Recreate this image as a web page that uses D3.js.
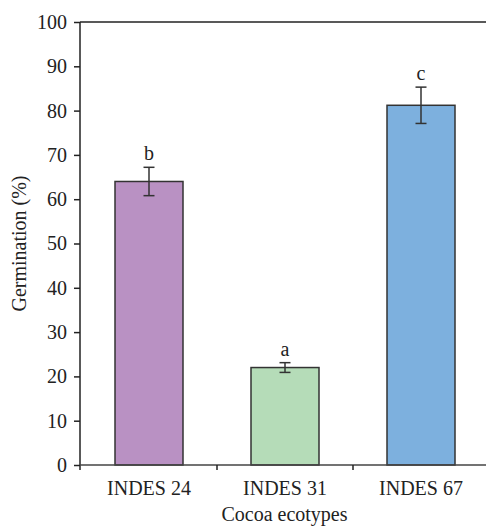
<!DOCTYPE html>
<html>
<head>
<meta charset="utf-8">
<script src="https://cdn.jsdelivr.net/npm/d3@7"></script>
<style>
  body { margin: 0; background: #fff; }
</style>
</head>
<body>
<div id="chart"></div>
<script>
// data
const categories = ['INDES 24', 'INDES 31', 'INDES 67']
const germination = [64, 22, 81.2]
const errors = [3.2, 1.1, 4.1]
const letters = ['b', 'a', 'c']
const colors = ['#b991c3', '#b5dcb8', '#7db0de']
const yTicks = [0, 10, 20, 30, 40, 50, 60, 70, 80, 90, 100]

const width = 486,
      height = 526,
      plotLeft = 80,
      plotTop = 22,
      plotBottom = 465,
      plotRight = 489,
      font = '"Liberation Serif", "Times New Roman", Times, serif',
      fontSize = '20px'

let svg = d3.select('#chart')
  .append('svg')
  .attr('width', width)
  .attr('height', height)
  .style('font-family', font)

let x = d3.scaleBand()
  .domain(categories)
  .range([plotLeft + 1, plotRight])
  .paddingInner(0.5)
  .paddingOuter(0.25)

let y = d3.scaleLinear()
  .domain([0, 100])
  .range([plotBottom, plotTop])

let mid = c => x(c) + x.bandwidth() / 2

// bars
svg.selectAll('rect.bar')
  .data(germination)
  .enter()
  .append('rect')
  .attr('class', 'bar')
  .attr('x', (d, i) => x(categories[i]))
  .attr('y', d => y(d))
  .attr('width', x.bandwidth())
  .attr('height', d => y(0) - y(d))
  .attr('fill', (d, i) => colors[i])
  .attr('stroke', '#333')
  .attr('stroke-width', 1.5)

// error bars
let err = svg.selectAll('g.err')
  .data(germination)
  .enter()
  .append('g')
  .attr('class', 'err')
  .attr('stroke', '#333')
  .attr('stroke-width', 1.5)

err.append('line')
  .attr('x1', (d, i) => mid(categories[i]))
  .attr('x2', (d, i) => mid(categories[i]))
  .attr('y1', (d, i) => y(d + errors[i]))
  .attr('y2', (d, i) => y(d - errors[i]))

err.append('line')
  .attr('x1', (d, i) => mid(categories[i]) - 5.5)
  .attr('x2', (d, i) => mid(categories[i]) + 5.5)
  .attr('y1', (d, i) => y(d + errors[i]))
  .attr('y2', (d, i) => y(d + errors[i]))

err.append('line')
  .attr('x1', (d, i) => mid(categories[i]) - 5.5)
  .attr('x2', (d, i) => mid(categories[i]) + 5.5)
  .attr('y1', (d, i) => y(d - errors[i]))
  .attr('y2', (d, i) => y(d - errors[i]))

// significance letters
svg.selectAll('text.letter')
  .data(germination)
  .enter()
  .append('text')
  .attr('class', 'letter')
  .attr('x', (d, i) => mid(categories[i]))
  .attr('y', (d, i) => y(d + errors[i]) - 7)
  .attr('text-anchor', 'middle')
  .style('font-family', font)
  .style('font-size', fontSize)
  .attr('fill', '#222')
  .text((d, i) => letters[i])

// y axis
let yAxis = svg.append('g')
  .attr('transform', `translate(${plotLeft},0)`)
  .call(d3.axisLeft(y).tickValues(yTicks).tickSize(6).tickPadding(7))
yAxis.attr('font-family', null).attr('font-size', null)
yAxis.select('.domain').remove()
yAxis.selectAll('line').attr('stroke', '#222').attr('stroke-width', 1.5)
yAxis.selectAll('text')
  .style('font-family', font)
  .style('font-size', fontSize)
  .attr('fill', '#222')

svg.append('line')
  .attr('x1', plotLeft).attr('x2', plotLeft)
  .attr('y1', plotTop).attr('y2', plotBottom + 5)
  .attr('stroke', '#222').attr('stroke-width', 1.5)

// top border
svg.append('line')
  .attr('x1', plotLeft).attr('x2', width)
  .attr('y1', plotTop).attr('y2', plotTop)
  .attr('stroke', '#222').attr('stroke-width', 1.5)

// x axis
svg.append('line')
  .attr('x1', plotLeft).attr('x2', width)
  .attr('y1', plotBottom).attr('y2', plotBottom)
  .attr('stroke', '#444').attr('stroke-width', 1.5)

let step = x.step()
let bounds = categories.slice(1).map(c => x(c) - x.paddingInner() * step / 2)
svg.selectAll('line.xtick')
  .data(bounds)
  .enter()
  .append('line')
  .attr('class', 'xtick')
  .attr('x1', d => d).attr('x2', d => d)
  .attr('y1', plotBottom).attr('y2', plotBottom + 5)
  .attr('stroke', '#222').attr('stroke-width', 1.5)

svg.selectAll('text.xlab')
  .data(categories)
  .enter()
  .append('text')
  .attr('class', 'xlab')
  .attr('x', d => mid(d))
  .attr('y', 495)
  .attr('text-anchor', 'middle')
  .style('font-family', font)
  .style('font-size', fontSize)
  .attr('fill', '#222')
  .text(d => d)

// axis titles
svg.append('text')
  .attr('x', (plotLeft + plotRight) / 2)
  .attr('y', 521)
  .attr('text-anchor', 'middle')
  .style('font-family', font)
  .style('font-size', fontSize)
  .attr('fill', '#222')
  .text('Cocoa ecotypes')

svg.append('text')
  .attr('transform', `translate(26,${(plotTop + plotBottom) / 2}) rotate(-90)`)
  .attr('text-anchor', 'middle')
  .style('font-family', font)
  .style('font-size', fontSize)
  .attr('fill', '#222')
  .text('Germination (%)')
</script>
</body>
</html>
